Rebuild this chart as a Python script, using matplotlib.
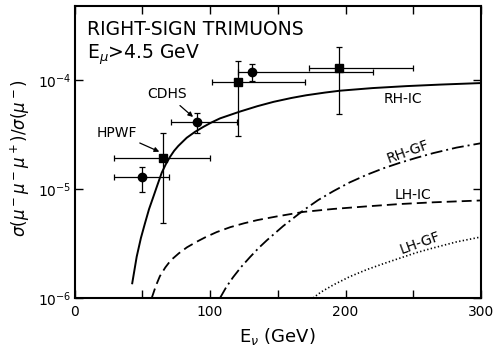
import numpy as np
import matplotlib
matplotlib.use("Agg")
import matplotlib.pyplot as plt

# --- данные ---
# HPWF (квадраты)
hpwf_e = [65.5, 120.9, 195.4]
hpwf_e_lo = [29.4, 101.3, 173.3]
hpwf_e_hi = [100.0, 170.1, 249.6]
hpwf_r = [1.94e-5, 9.53e-5, 1.28e-4]
hpwf_r_lo = [4.84e-6, 3.08e-5, 4.88e-5]
hpwf_r_hi = [3.24e-5, 1.50e-4, 2.00e-4]

# CDHS (кружки)
cdhs_e = [50.0, 90.6, 131.2]
cdhs_e_lo = [29.4, 71.2, 120.9]
cdhs_e_hi = [70.0, 120.1, 220.5]
cdhs_r = [1.28e-5, 4.14e-5, 1.19e-4]
cdhs_r_lo = [9.44e-6, 3.24e-5, 9.7e-5]
cdhs_r_hi = [1.60e-5, 4.94e-5, 1.39e-4]

# кривые (log10 отношения)
rh_ic_e = [42.6, 45.9, 49.0, 52.0, 55.0, 58.2, 61.0, 64.4, 67.5, 70.5, 73.5, 76.6,
           82.8, 89.0, 95.1, 101.0, 107.4, 122.0, 135.0, 147.0, 160.0, 171.0,
           185.0, 196.0, 220.0, 245.0, 270.0, 300.0]
rh_ic_lg = [-5.865, -5.621, -5.45, -5.315, -5.185, -5.071, -4.97, -4.85, -4.77,
            -4.705, -4.65, -4.605, -4.53, -4.475, -4.43, -4.39, -4.352, -4.29,
            -4.24, -4.20, -4.165, -4.14, -4.115, -4.098, -4.074, -4.056, -4.042,
            -4.028]

lh_ic_e = [57.0, 60.0, 63.0, 67.0, 71.0, 77.0, 83.0, 90.0, 97.0, 105.0, 115.0,
           125.0, 135.0, 150.0, 169.0, 191.0, 215.0, 240.0, 265.0, 300.0]
lh_ic_lg = [-6.0, -5.89, -5.80, -5.72, -5.655, -5.59, -5.535, -5.485, -5.44,
            -5.395, -5.35, -5.315, -5.285, -5.25, -5.21, -5.183, -5.16, -5.138,
            -5.122, -5.105]

rh_gf_e = [107.4, 112.0, 117.0, 123.0, 129.5, 136.0, 142.0, 154.0, 169.0, 180.0,
           191.0, 203.0, 215.6, 228.0, 240.0, 252.0, 265.0, 282.0, 300.0]
rh_gf_lg = [-6.0, -5.90, -5.81, -5.715, -5.625, -5.54, -5.47, -5.34, -5.195, -5.10,
            -5.02, -4.94, -4.87, -4.81, -4.76, -4.715, -4.67, -4.62, -4.58]

lh_gf_e = [176.0, 182.0, 191.0, 203.0, 215.6, 228.0, 240.0, 252.0, 265.0, 282.0, 300.0]
lh_gf_lg = [-6.0, -5.945, -5.88, -5.805, -5.74, -5.685, -5.635, -5.585, -5.54,
            -5.485, -5.44]

x_ticks = [0, 50, 100, 150, 200, 250, 300]
x_labels = ["0", "", "100", "", "200", "", "300"]
y_ticks = [1e-6, 1e-5, 1e-4]
y_labels = [r"$10^{-6}$", r"$10^{-5}$", r"$10^{-4}$"]

plt.rcParams["font.family"] = "DejaVu Sans"
plt.rcParams["mathtext.fontset"] = "dejavusans"

fig = plt.figure(figsize=(4.93, 3.47), dpi=100)
ax = fig.add_axes([74.5 / 493, 49 / 347, 406.5 / 493, 292 / 347])

ax.plot(rh_ic_e, 10 ** np.array(rh_ic_lg), color="black", lw=1.4)
ax.plot(lh_ic_e, 10 ** np.array(lh_ic_lg), color="black", lw=1.3, dashes=(5.5, 2.8))
ax.plot(rh_gf_e, 10 ** np.array(rh_gf_lg), color="black", lw=1.3,
        dashes=(6.6, 2.2, 1.1, 2.2))
ax.plot(lh_gf_e, 10 ** np.array(lh_gf_lg), color="black", lw=1.2, dashes=(0.8, 1.4))

# точки с ошибками
for e, elo, ehi, r, rlo, rhi, m in [
    (hpwf_e, hpwf_e_lo, hpwf_e_hi, hpwf_r, hpwf_r_lo, hpwf_r_hi, "s"),
    (cdhs_e, cdhs_e_lo, cdhs_e_hi, cdhs_r, cdhs_r_lo, cdhs_r_hi, "o"),
]:
    e = np.array(e)
    r = np.array(r)
    xerr = [e - np.array(elo), np.array(ehi) - e]
    yerr = [r - np.array(rlo), np.array(rhi) - r]
    ax.errorbar(e, r, xerr=xerr, yerr=yerr, fmt=m, color="black", ms=6,
                elinewidth=0.9, capsize=2, capthick=0.9)

ax.set_yscale("log")
ax.set_xlim(0, 300)
ax.set_ylim(1e-6, 10 ** -3.321)
ax.set_xticks(x_ticks)
ax.set_xticklabels(x_labels)
ax.set_yticks(y_ticks)
ax.set_yticklabels(y_labels)
ax.yaxis.set_minor_locator(matplotlib.ticker.NullLocator())
ax.tick_params(direction="in", length=6, width=1.0, top=True, right=True,
               labelsize=10)
ax.tick_params(axis="y", pad=2)
ax.tick_params(axis="x", pad=5)
for s in ax.spines.values():
    s.set_linewidth(1.5)

# подписи
ax.text(0.031, 0.918, "RIGHT-SIGN TRIMUONS", transform=ax.transAxes,
        fontsize=13.5, va="center", ha="left")
ax.text(0.031, 0.832, r"E$_\mu$>4.5 GeV", transform=ax.transAxes,
        fontsize=13.5, va="center", ha="left")

ax.text(242.7, 10 ** -4.17, "RH-IC", fontsize=10, ha="center", va="center")
ax.text(246.4, 10 ** -4.658, "RH-GF", fontsize=10, ha="center", va="center",
        rotation=20)
ax.text(250.0, 10 ** -5.055, "LH-IC", fontsize=10, ha="center", va="center")
ax.text(255.0, 10 ** -5.498, "LH-GF", fontsize=10, ha="center", va="center",
        rotation=20)

ax.annotate("CDHS", xy=(87.5, 10 ** -4.339), xytext=(68.0, 10 ** -4.128),
            fontsize=10, ha="center", va="center",
            arrowprops=dict(arrowstyle="-|>", color="black", lw=0.9,
                            mutation_scale=7, shrinkA=2, shrinkB=0))
ax.annotate("HPWF", xy=(62.6, 10 ** -4.658), xytext=(31.1, 10 ** -4.483),
            fontsize=10, ha="center", va="center",
            arrowprops=dict(arrowstyle="-|>", color="black", lw=0.9,
                            mutation_scale=7, shrinkA=1, shrinkB=0))

ax.set_xlabel(r"E$_\nu$ (GeV)", fontsize=13, labelpad=5)
fig.text(20 / 493, 1 - 158 / 347, r"$\sigma(\mu^-\mu^-\mu^+)/\sigma(\mu^-)$",
         rotation=90, ha="center", va="center", fontsize=12)

fig.savefig("out.png", dpi=100)
